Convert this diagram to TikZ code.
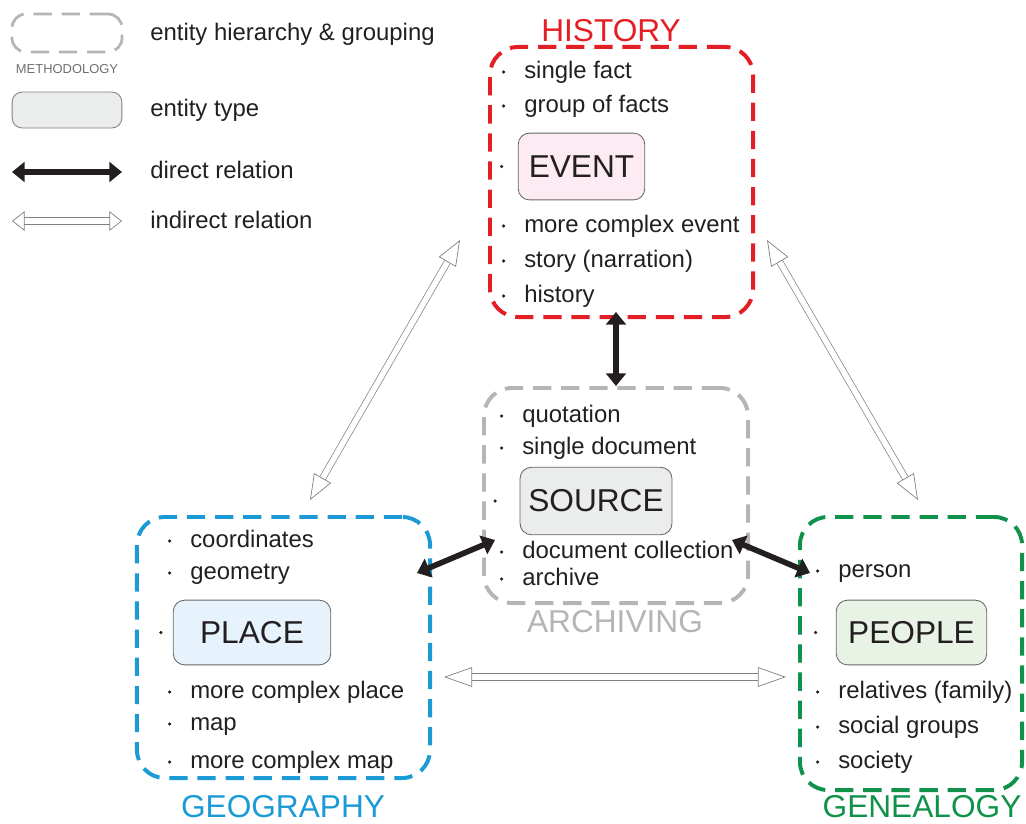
\documentclass[tikz,border=0pt]{standalone}
\usepackage{fontspec}
\setmainfont{Liberation Sans}
\usetikzlibrary{arrows.meta}
\definecolor{txt}{HTML}{231F20}
\definecolor{histred}{HTML}{E31E24}
\definecolor{geoblue}{HTML}{1B9AD6}
\definecolor{genegreen}{HTML}{10924A}
\definecolor{archgray}{HTML}{B5B5B5}
\definecolor{methgray}{HTML}{6D6E71}
\definecolor{eventfill}{HTML}{FCEBF3}
\definecolor{sourcefill}{HTML}{EBECEC}
\definecolor{placefill}{HTML}{E6F2FC}
\definecolor{peoplefill}{HTML}{E8F3E6}

\begin{document}
\begin{tikzpicture}[x=0.025cm,y=-0.025cm,
    frame/.style={draw,line width=2.8pt,dash pattern=on 13pt off 7pt,rounded corners=0.7cm,inner sep=0pt},
    title/.style={inner sep=0pt,font=\fontsize{22.5}{26}\selectfont},
    bul/.style={circle,fill=txt,inner sep=0pt,minimum size=2.5pt},
    entity/.style={draw=gray!80!black,line width=0.6pt,rounded corners=8pt,text=txt,inner sep=0pt,
        font=\fontsize{22.5}{26}\selectfont,label={[bul,label distance=#1]left:{}}},
    item/.style={anchor=west,inner sep=0pt,text=txt,text height=12.5pt,text depth=3.5pt,
        font=\fontsize{17}{20}\selectfont,label={[bul,label distance=13pt]left:{}}},
    legtext/.style={anchor=west,inner sep=0pt,text=txt,text height=12.5pt,text depth=3.5pt,
        font=\fontsize{17}{20}\selectfont},
    direct/.style={draw=txt,line width=4pt,{Triangle[length=9pt,width=14pt]}-{Triangle[length=9pt,width=14pt]}},
    indirect/.style={draw=gray,line width=0.5pt,double=white,double distance=4pt,
        {Triangle[open,length=#1,width=14pt]}-{Triangle[open,length=#1,width=14pt]}},
    indirect/.default=14pt]
\useasboundingbox (0,0) rectangle (1026,823);

% legend
\node[frame,draw=archgray,line width=2pt,rounded corners=0.35cm,minimum width=2.75cm,minimum height=0.95cm] (legframe) at (67,33) {};
\node[inner sep=0pt,text=methgray,font=\fontsize{9.2}{11}\selectfont] (legmeth) at (67,69) {METHODOLOGY};
\node[draw=gray,line width=0.6pt,fill=sourcefill,rounded corners=7pt,minimum width=78pt,minimum height=25.5pt] (legentity) at (67,110) {};
\coordinate (ld1) at (12,172);
\coordinate (ld2) at (122,172);
\coordinate (li1) at (12,221);
\coordinate (li2) at (122,221);
\path (ld1) edge[direct] (ld2)
      (li1) edge[indirect=9pt] (li2);
\node[legtext] (legt1) at (150,34) {entity hierarchy \& grouping};
\node[legtext] (legt2) at (150,110) {entity type};
\node[legtext] (legt3) at (150,172) {direct relation};
\node[legtext] (legt4) at (150,222) {indirect relation};

% history
\node[frame,draw=histred,minimum width=6.575cm,minimum height=6.75cm] (hist) at (621.5,182) {};
\node[title,text=histred] (histtitle) at (611,31) {HISTORY};
\node[item] (h1) at (524,72) {single fact};
\node[item] (h2) at (524,106) {group of facts};
\node[entity=10pt,fill=eventfill,minimum width=90pt,minimum height=47.5pt] (event) at (581.5,166.5) {EVENT};
\node[item] (h3) at (524,226) {more complex event};
\node[item] (h4) at (524,261) {story (narration)};
\node[item] (h5) at (524,296) {history};

% archiving
\node[frame,draw=archgray,minimum width=6.6cm,minimum height=5.375cm] (arch) at (616,495.5) {};
\node[title,text=archgray] (archtitle) at (615,622) {ARCHIVING};
\node[item] (a1) at (522,416) {quotation};
\node[item] (a2) at (522,448) {single document};
\node[entity=16pt,fill=sourcefill,minimum width=108pt,minimum height=48pt] (source) at (596,501) {SOURCE};
\node[item] (a3) at (522,552) {document collection};
\node[item] (a4) at (522,579) {archive};

% geography
\node[frame,draw=geoblue,minimum width=7.325cm,minimum height=6.525cm] (geo) at (283.5,647.5) {};
\node[title,text=geoblue] (geotitle) at (283,807) {GEOGRAPHY};
\node[item] (g1) at (190,541) {coordinates};
\node[item] (g2) at (190,573) {geometry};
\node[entity=7pt,fill=placefill,minimum width=112pt,minimum height=46pt] (place) at (252,632.5) {PLACE};
\node[item] (g3) at (190,692) {more complex place};
\node[item] (g4) at (190,724) {map};
\node[item] (g5) at (190,762) {more complex map};

% genealogy
\node[frame,draw=genegreen,minimum width=5.55cm,minimum height=6.825cm] (gen) at (911,653.5) {};
\node[title,text=genegreen] (gentitle) at (922,807) {GENEALOGY};
\node[item] (p1) at (838,571) {person};
\node[entity=13pt,fill=peoplefill,minimum width=107pt,minimum height=46pt] (people) at (911.5,632.5) {PEOPLE};
\node[item] (p2) at (838,692) {relatives (family)};
\node[item] (p3) at (838,727) {social groups};
\node[item] (p4) at (838,762) {society};

% relations
\path ([yshift=5pt]hist.south -| arch.north) edge[direct] (arch.north)
      ([shift={(-15,58)}]geo.north east) edge[direct] ([shift={(13,-65)}]arch.south west)
      ([shift={(-18,-65)}]arch.south east) edge[direct] ([shift={(12,58)}]gen.north west);
\path ([shift={(-28,-79)}]hist.south west) edge[indirect=18pt] ([shift={(26.5,-15)}]geo.north)
      ([shift={(12,-79)}]hist.south east) edge[indirect=18pt] ([shift={(7,-15)}]gen.north)
      ([shift={(12,29.5)}]geo.east) edge[indirect=20pt] ([shift={(-12,23.5)}]gen.west);
\end{tikzpicture}
\end{document}
